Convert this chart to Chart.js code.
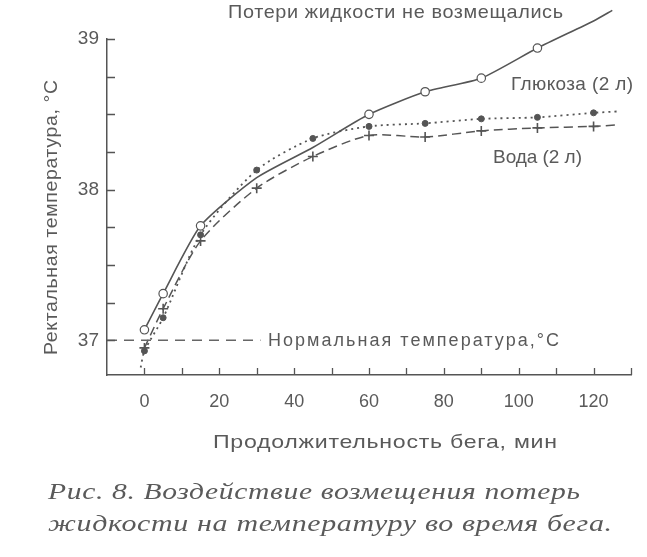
<!DOCTYPE html>
<html>
<head>
<meta charset="utf-8">
<script src="https://cdn.jsdelivr.net/npm/chart.js@4.4.1/dist/chart.umd.min.js"></script>
<style>
  html, body { margin: 0; padding: 0; background: #ffffff; }
  #wrap { width: 647px; height: 557px; }
</style>
</head>
<body>
<div id="wrap"><canvas id="c" width="647" height="557"></canvas></div>
<script>
// ---- data ----
const minutes = [0, 5, 15, 30, 45, 60, 75, 90, 105, 120];
const noReplacement = [37.07, 37.31, 37.76, 38.08, 38.28, 38.50, 38.65, 38.74, 38.94, 39.12];
const glucose = [36.93, 37.15, 37.70, 38.13, 38.34, 38.42, 38.44, 38.47, 38.48, 38.51];
const water = [36.95, 37.21, 37.66, 38.01, 38.22, 38.36, 38.35, 38.39, 38.41, 38.42];
// where the drawn curves run on past the last measured point
const tailMinute = 125;
const noReplacementTail = 39.19;
const glucoseTail = 38.52;
const waterTail = 38.43;
const glucoseHeadMinute = -1;
const glucoseHead = 36.82;
const normalTemp = 37;
const normalLineMinutes = [-10, 31];
const xTickLabels = [0, 20, 40, 60, 80, 100, 120];
const yTickLabels = [37, 38, 39];

const titleText = 'Потери жидкости не возмещались';
const glucoseLabel = 'Глюкоза (2 л)';
const waterLabel = 'Вода (2 л)';
const normalLabel = 'Нормальная температура,°С';
const xTitle = 'Продолжительность бега, мин';
const yTitle = 'Ректальная температура, °С';
const captionLines = ['Рис. 8. Воздействие возмещения потерь', 'жидкости на температуру во время бега.'];

// ---- build datasets ----
function pts(xs, ys) { return xs.map((x, i) => ({ x: x, y: ys[i] })); }
const solidData = pts(minutes, noReplacement).concat([{ x: tailMinute, y: noReplacementTail }]);
const glucoseData = [{ x: glucoseHeadMinute, y: glucoseHead }].concat(pts(minutes, glucose), [{ x: tailMinute + 2, y: glucoseTail }]);
const waterData = pts(minutes, water).concat([{ x: tailMinute + 1, y: waterTail }]);
const normalData = normalLineMinutes.map(m => ({ x: m, y: normalTemp }));

const LINE = '#555555';
const TEXT = '#5a5a5a';
const SANS = "'Liberation Sans', Arial, sans-serif";
const SERIF = "'Liberation Serif', 'DejaVu Serif', serif";

const solidRadius = solidData.map((p, i) => (i >= minutes.length || p.x === 30 || p.x === 45) ? 0 : 4.2);
const glucoseRadius = glucoseData.map((p, i) => (i === 0 || i === glucoseData.length - 1) ? 0 : 3);
const waterRadius = waterData.map((p, i) => (i === waterData.length - 1) ? 0 : 5);

// spread text to span x1..x2 by letter spacing
function spreadText(ctx, text, x1, x2, y, font) {
  ctx.font = font;
  ctx.letterSpacing = '0px';
  const w = ctx.measureText(text).width;
  const n = [...text].length;
  const s = (x2 - x1 - w) / Math.max(1, n - 1);
  ctx.letterSpacing = s.toFixed(2) + 'px';
  ctx.fillText(text, x1, y);
  ctx.letterSpacing = '0px';
}
// stretch text horizontally to span x1..x2, with a little letter spacing
function stretchText(ctx, text, x1, x2, y, font, spacing) {
  ctx.font = font;
  ctx.letterSpacing = (spacing || 0) + 'px';
  const w = ctx.measureText(text).width - (spacing || 0);
  ctx.save();
  ctx.translate(x1, y);
  ctx.scale((x2 - x1) / w, 1);
  ctx.fillText(text, 0, 0);
  ctx.restore();
  ctx.letterSpacing = '0px';
}

const decor = {
  id: 'decor',
  afterDraw(chart) {
    const ctx = chart.ctx;
    const xs = chart.scales.x, ys = chart.scales.y;
    ctx.save();
    // inward tick marks
    ctx.strokeStyle = LINE;
    ctx.lineWidth = 1.3;
    ctx.beginPath();
    for (let v = 0; v <= 130; v += 10) {
      const px = Math.round(xs.getPixelForValue(v)) + 0.5;
      ctx.moveTo(px, ys.bottom);
      ctx.lineTo(px, ys.bottom - 7);
    }
    for (let v = 37; v <= 39.001; v += 0.25) {
      const py = Math.round(ys.getPixelForValue(v)) + 0.5;
      ctx.moveTo(xs.left, py);
      ctx.lineTo(xs.left + 8, py);
    }
    ctx.stroke();

    // texts
    ctx.fillStyle = TEXT;
    ctx.textBaseline = 'middle';
    ctx.textAlign = 'left';
    stretchText(ctx, titleText, 228, 563, 13, '19px ' + SANS, 0.6);
    spreadText(ctx, glucoseLabel, 511, 633, 85, '19px ' + SANS);
    spreadText(ctx, waterLabel, 493, 582, 158, '19px ' + SANS);
    spreadText(ctx, normalLabel, 268, 559, 341, '18px ' + SANS);
    stretchText(ctx, xTitle, 213, 557, 443, '19px ' + SANS, 0.6);

    ctx.save();
    ctx.translate(52, 355);
    ctx.rotate(-Math.PI / 2);
    stretchText(ctx, yTitle, 0, 275, 0, '19px ' + SANS, 0.6);
    ctx.restore();

    ctx.textBaseline = 'alphabetic';
    stretchText(ctx, captionLines[0], 48, 580, 499, 'italic 23px ' + SERIF, 0.5);
    stretchText(ctx, captionLines[1], 48, 612, 531, 'italic 23px ' + SERIF, 0.5);
    ctx.restore();
  }
};

new Chart(document.getElementById('c'), {
  type: 'line',
  data: {
    datasets: [
      {
        label: 'normal', data: normalData, borderColor: '#666666', borderWidth: 1.5,
        borderDash: [10, 7], pointRadius: 0, clip: false
      },
      {
        label: 'water', data: waterData, borderColor: LINE, borderWidth: 1.5,
        borderDash: [9, 5], pointStyle: 'cross', pointRadius: waterRadius,
        pointBorderColor: LINE, pointBorderWidth: 1.6,
        tension: 0.25, clip: false
      },
      {
        label: 'glucose', data: glucoseData, borderColor: LINE, borderWidth: 1.8,
        borderDash: [2, 4], pointStyle: 'circle', pointRadius: glucoseRadius,
        pointBackgroundColor: LINE, pointBorderColor: LINE, pointBorderWidth: 1,
        tension: 0.25, clip: false
      },
      {
        label: 'noReplacement', data: solidData, borderColor: LINE, borderWidth: 1.6,
        pointStyle: 'circle', pointRadius: solidRadius,
        pointBackgroundColor: '#ffffff', pointBorderColor: LINE, pointBorderWidth: 1.2,
        tension: 0.2, clip: false
      }
    ]
  },
  options: {
    responsive: false,
    animation: false,
    devicePixelRatio: 1,
    layout: { padding: { left: 0, right: 14, top: 39, bottom: 0 } },
    plugins: { legend: { display: false }, tooltip: { enabled: false }, title: { display: false } },
    scales: {
      x: {
        type: 'linear', min: -10, max: 130,
        grid: { display: true, drawOnChartArea: false, drawTicks: false },
        border: { display: true, color: LINE, width: 1.5 },
        ticks: {
          stepSize: 10, autoSkip: false, maxRotation: 0, padding: 16,
          color: TEXT, font: { family: SANS, size: 18 },
          callback: v => xTickLabels.includes(v) ? String(v) : ''
        },
        afterFit: s => { s.height = 182; }
      },
      y: {
        type: 'linear', min: 36.77, max: 39,
        grid: { display: true, drawOnChartArea: false, drawTicks: false },
        border: { display: true, color: LINE, width: 1.5 },
        ticks: {
          stepSize: 0.25, autoSkip: false, padding: 8,
          color: TEXT, font: { family: SANS, size: 19 },
          callback: v => yTickLabels.some(t => Math.abs(t - v) < 1e-6) ? String(Math.round(v)) : ''
        },
        afterFit: s => { s.width = 107; }
      }
    }
  },
  plugins: [decor]
});
</script>
</body>
</html>
